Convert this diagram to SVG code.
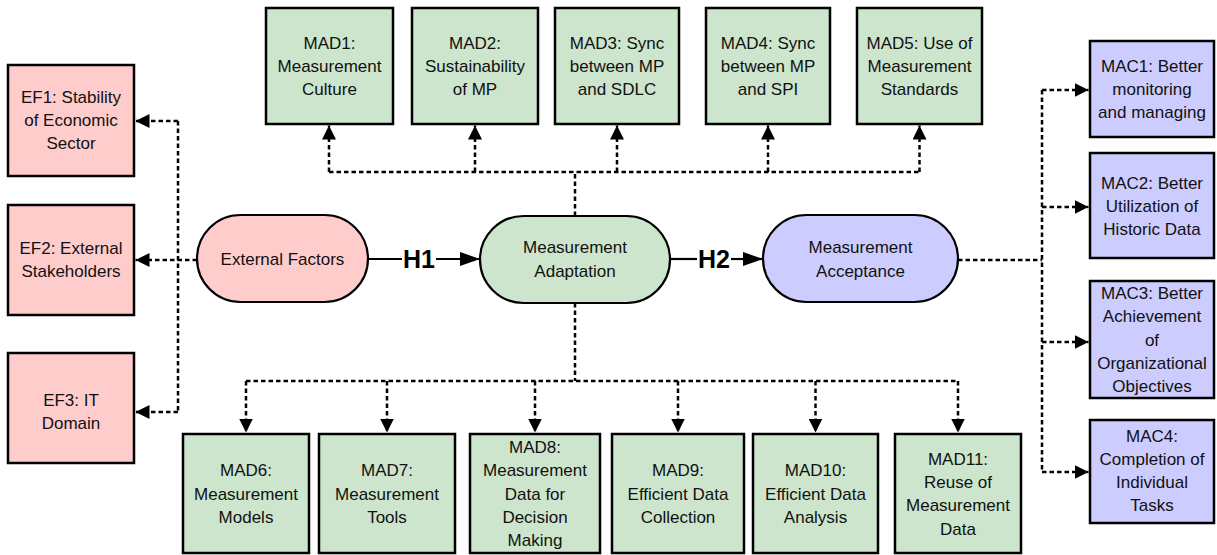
<svg xmlns="http://www.w3.org/2000/svg" width="1217" height="555" viewBox="0 0 1217 555">
<style>
.ef{fill:#FFCCCC;stroke:#000;stroke-width:2.5}
.mad{fill:#CCE5CC;stroke:#000;stroke-width:2.5}
.mac{fill:#CCCCFF;stroke:#000;stroke-width:2.5}
.pill{stroke:#000;stroke-width:2.2}
text{font-family:"Liberation Sans",Arial,sans-serif;font-size:17px;fill:#111;text-anchor:middle}
.h{font-weight:bold;font-size:25px;fill:#000}
.dash{fill:none;stroke:#000;stroke-width:2.5;stroke-dasharray:4.5 3}
.solid{fill:none;stroke:#000;stroke-width:2.2}
</style>
<defs>
<marker id="a" markerUnits="userSpaceOnUse" markerWidth="14" markerHeight="14" refX="14" refY="7" orient="auto" viewBox="0 0 14 14"><path d="M0,0 L14,7 L0,14 z" fill="#000"/></marker>
<marker id="b" markerUnits="userSpaceOnUse" markerWidth="20" markerHeight="14" refX="20" refY="7" orient="auto" viewBox="0 0 20 14"><path d="M0,0 L20,7 L0,14 z" fill="#000"/></marker>
</defs>

<g id="connectors">
<path class="dash" d="M575,216 V172"/>
<path class="dash" d="M329,172 H921"/>
<path class="dash" d="M329,172 V125.5" marker-end="url(#a)"/>
<path class="dash" d="M475,172 V125.5" marker-end="url(#a)"/>
<path class="dash" d="M617,172 V125.5" marker-end="url(#a)"/>
<path class="dash" d="M768,172 V125.5" marker-end="url(#a)"/>
<path class="dash" d="M919.5,172 V125.5" marker-end="url(#a)"/>
<path class="dash" d="M575,303 V381"/>
<path class="dash" d="M246,381 H958"/>
<path class="dash" d="M246,381 V432.5" marker-end="url(#a)"/>
<path class="dash" d="M387,381 V432.5" marker-end="url(#a)"/>
<path class="dash" d="M535,381 V432.5" marker-end="url(#a)"/>
<path class="dash" d="M678,381 V432.5" marker-end="url(#a)"/>
<path class="dash" d="M815.5,381 V432.5" marker-end="url(#a)"/>
<path class="dash" d="M958,381 V432.5" marker-end="url(#a)"/>
<path class="dash" d="M197,260 H135.5" marker-end="url(#a)"/>
<path class="dash" d="M178,121 V412"/>
<path class="dash" d="M178,121 H135.5" marker-end="url(#a)"/>
<path class="dash" d="M178,412 H135.5" marker-end="url(#a)"/>
<path class="dash" d="M958,260 H1042"/>
<path class="dash" d="M1042,90 V472"/>
<path class="dash" d="M1042,90 H1088.5" marker-end="url(#a)"/>
<path class="dash" d="M1042,207 H1088.5" marker-end="url(#a)"/>
<path class="dash" d="M1042,342 H1088.5" marker-end="url(#a)"/>
<path class="dash" d="M1042,472 H1088.5" marker-end="url(#a)"/>
<path class="solid" d="M368,259 H402"/>
<path class="solid" d="M436,259 H480" marker-end="url(#b)"/>
<text class="h" x="419" y="268">H1</text>
<path class="solid" d="M670,259 H697"/>
<path class="solid" d="M731,259 H763" marker-end="url(#b)"/>
<text class="h" x="714" y="268">H2</text>
</g>

<g id="ef">
<rect class="pill" x="197" y="215" width="171" height="87" rx="43.5" fill="#FFCCCC"/>
<text x="282.5" y="265">External Factors</text>
</g>
<g id="ma">
<rect class="pill" x="480" y="216" width="190" height="87" rx="43.5" fill="#CCE5CC"/>
<text x="575" y="253">Measurement</text>
<text x="575" y="277">Adaptation</text>
</g>
<g id="mac">
<rect class="pill" x="763" y="215" width="195" height="87" rx="43.5" fill="#CCCCFF"/>
<text x="860.5" y="253">Measurement</text>
<text x="860.5" y="277">Acceptance</text>
</g>

<g id="EF1"><rect class="ef" x="8" y="65" width="126" height="111"/>
<text x="71" y="103">EF1: Stability</text><text x="71" y="126">of Economic</text><text x="71" y="149">Sector</text></g>
<g id="EF2"><rect class="ef" x="8" y="205" width="126" height="110"/>
<text x="71" y="254">EF2: External</text><text x="71" y="277">Stakeholders</text></g>
<g id="EF3"><rect class="ef" x="8" y="353" width="126" height="110"/>
<text x="71" y="406">EF3: IT</text><text x="71" y="429">Domain</text></g>

<g id="MAD1"><rect class="mad" x="266" y="8" width="127" height="116"/>
<text x="329.5" y="49">MAD1:</text><text x="329.5" y="72">Measurement</text><text x="329.5" y="95">Culture</text></g>
<g id="MAD2"><rect class="mad" x="412" y="8" width="126" height="116"/>
<text x="475" y="49">MAD2:</text><text x="475" y="72">Sustainability</text><text x="475" y="95">of MP</text></g>
<g id="MAD3"><rect class="mad" x="555" y="8" width="124" height="116"/>
<text x="617" y="49">MAD3: Sync</text><text x="617" y="72">between MP</text><text x="617" y="95">and SDLC</text></g>
<g id="MAD4"><rect class="mad" x="706" y="8" width="124" height="116"/>
<text x="768" y="49">MAD4: Sync</text><text x="768" y="72">between MP</text><text x="768" y="95">and SPI</text></g>
<g id="MAD5"><rect class="mad" x="857" y="8" width="125" height="116"/>
<text x="919.5" y="49">MAD5: Use of</text><text x="919.5" y="72">Measurement</text><text x="919.5" y="95">Standards</text></g>

<g id="MAD6"><rect class="mad" x="183" y="434" width="126" height="119"/>
<text x="246" y="476">MAD6:</text><text x="246" y="499.5">Measurement</text><text x="246" y="523">Models</text></g>
<g id="MAD7"><rect class="mad" x="319" y="434" width="136" height="119"/>
<text x="387" y="476">MAD7:</text><text x="387" y="499.5">Measurement</text><text x="387" y="523">Tools</text></g>
<g id="MAD8"><rect class="mad" x="470" y="434" width="130" height="119"/>
<text x="535" y="453">MAD8:</text><text x="535" y="476">Measurement</text><text x="535" y="499.5">Data for</text><text x="535" y="523">Decision</text><text x="535" y="546">Making</text></g>
<g id="MAD9"><rect class="mad" x="612" y="434" width="132" height="119"/>
<text x="678" y="476">MAD9:</text><text x="678" y="499.5">Efficient Data</text><text x="678" y="523">Collection</text></g>
<g id="MAD10"><rect class="mad" x="753" y="434" width="125" height="119"/>
<text x="815.5" y="476">MAD10:</text><text x="815.5" y="499.5">Efficient Data</text><text x="815.5" y="523">Analysis</text></g>
<g id="MAD11"><rect class="mad" x="895" y="434" width="126" height="119"/>
<text x="958" y="464.5">MAD11:</text><text x="958" y="488">Reuse of</text><text x="958" y="511">Measurement</text><text x="958" y="534.5">Data</text></g>

<g id="MAC1"><rect class="mac" x="1090" y="41" width="124" height="96"/>
<text x="1152" y="72">MAC1: Better</text><text x="1152" y="95">monitoring</text><text x="1152" y="118">and managing</text></g>
<g id="MAC2"><rect class="mac" x="1090" y="153" width="124" height="105"/>
<text x="1152" y="188.5">MAC2: Better</text><text x="1152" y="211.5">Utilization of</text><text x="1152" y="234.5">Historic Data</text></g>
<g id="MAC3"><rect class="mac" x="1090" y="281" width="124" height="117"/>
<text x="1152" y="299">MAC3: Better</text><text x="1152" y="322">Achievement</text><text x="1152" y="345.5">of</text><text x="1152" y="369">Organizational</text><text x="1152" y="392">Objectives</text></g>
<g id="MAC4"><rect class="mac" x="1090" y="420" width="124" height="103"/>
<text x="1152" y="442">MAC4:</text><text x="1152" y="465">Completion of</text><text x="1152" y="488">Individual</text><text x="1152" y="511">Tasks</text></g>
</svg>
